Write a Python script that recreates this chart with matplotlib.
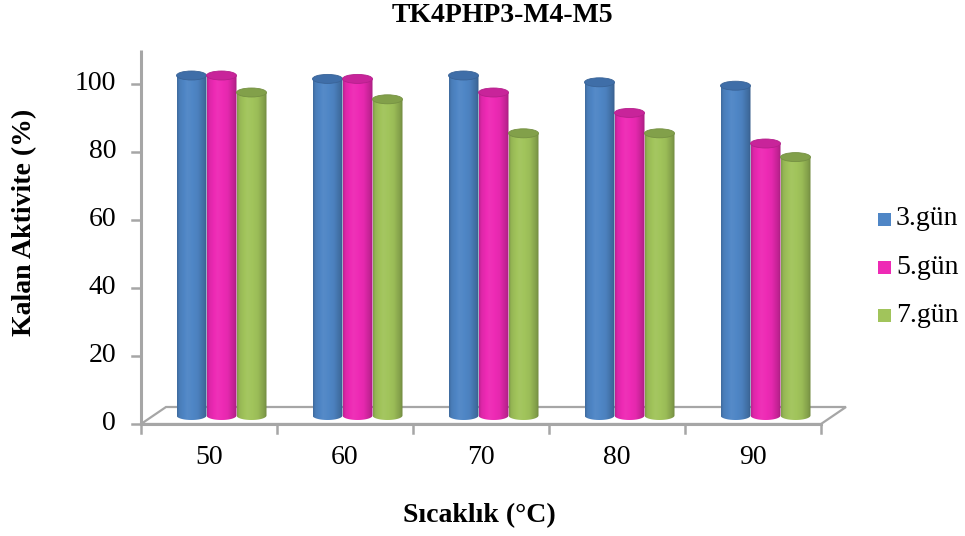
import numpy as np
import matplotlib
matplotlib.use("Agg")
import matplotlib.pyplot as plt
from matplotlib.patches import Ellipse, Polygon, PathPatch
from matplotlib.path import Path
from matplotlib.colors import to_rgb

# ---- data ----
categories = ["50", "60", "70", "80", "90"]
series_names = ["3.gün", "5.gün", "7.gün"]
day3 = [100, 99, 100, 98, 97]
day5 = [100, 99, 95, 89, 80]
day7 = [95, 93, 83, 83, 76]
y_ticks = [0, 20, 40, 60, 80, 100]

series_values = [day3, day5, day7]
body_colors = ["#4f86c6", "#ee2ab5", "#a1c45b"]
cap_colors = ["#3f6ea8", "#c8249a", "#82a04a"]

plt.rcParams["font.family"] = ["Liberation Serif", "DejaVu Serif"]

W, H = 965, 536
fig = plt.figure(figsize=(W / 100, H / 100), dpi=100)

# axes frame in pixel terms: x from 141 to 821, y: value 0 at 424 px, 100 at 84 px
px_per_unit = 3.4
x0_px, x1_px = 141, 821
y0_px = 424
ytop_px = 50
ymax = (y0_px - ytop_px) / px_per_unit
ax = fig.add_axes([x0_px / W, 1 - y0_px / H, (x1_px - x0_px) / W, (y0_px - ytop_px) / H])
ax.set_xlim(-0.5, len(categories) - 0.5)
ax.set_ylim(0, ymax)
ax.axis("off")

cat_px = (x1_px - x0_px) / len(categories)
depth_dx = 25 / cat_px              # full floor depth in x data units
depth_dy = 17 / px_per_unit         # full floor depth in value units
mid_dx, mid_dy = depth_dx / 2, depth_dy / 2
bar_w = 30 / cat_px
cap_h = 9 / px_per_unit             # ellipse height in value units

axis_col = "#a6a6a6"
n = len(categories)

# floor (parallelogram)
floor = Polygon([(-0.5, 0), (n - 0.5, 0), (n - 0.5 + depth_dx, depth_dy), (-0.5 + depth_dx, depth_dy)],
                closed=True, facecolor="white", edgecolor=axis_col, lw=1.6, clip_on=False, zorder=1)
ax.add_patch(floor)
# vertical axis
ax.plot([-0.5, -0.5], [0, ymax], color=axis_col, lw=2.2, clip_on=False, zorder=2, solid_capstyle="butt")
# front baseline
ax.plot([-0.5, n - 0.5], [0, 0], color=axis_col, lw=2.2, clip_on=False, zorder=2)

# y ticks and labels
tick_len_x = 9 / cat_px
for v in y_ticks:
    ax.plot([-0.5 - tick_len_x, -0.5], [v, v], color=axis_col, lw=1.8, clip_on=False, zorder=2)
    ax.text(-0.5 - 25 / cat_px, v, str(v), ha="right", va="center", fontsize=20, clip_on=False)

# x ticks and labels
tick_len_y = 9 / px_per_unit
for k in range(n + 1):
    ax.plot([k - 0.5, k - 0.5], [0, -tick_len_y], color=axis_col, lw=1.8, clip_on=False, zorder=2)
for k, c in enumerate(categories):
    ax.text(k, -33 / px_per_unit, c, ha="center", va="center", fontsize=20, clip_on=False)


def shade(color, f):
    r, g, b = to_rgb(color)
    if f >= 1:
        return tuple(min(1, ch + (1 - ch) * (f - 1)) for ch in (r, g, b))
    return (r * f, g * f, b * f)


def cylinder(xc, top, color, cap):
    base = mid_dy
    topc = base + top
    x_l, x_r = xc - bar_w / 2, xc + bar_w / 2
    # body outline: rectangle + lower half ellipse
    t = np.linspace(0, np.pi, 40)
    lower = np.column_stack([xc + bar_w / 2 * np.cos(t), base - cap_h / 2 * np.sin(t)])
    verts = np.vstack([[x_r, topc], [x_l, topc], [x_l, base], lower[::-1][1:], [x_r, base]])
    path = Path(verts, closed=False)
    clip = PathPatch(path, transform=ax.transData, facecolor="none", edgecolor="none")
    ax.add_patch(clip)
    # horizontal gradient across the cylinder
    u = np.linspace(0, 1, 64)
    prof = np.interp(u, [0, 0.08, 0.35, 0.7, 0.92, 1.0], [0.8, 0.93, 1.04, 0.96, 0.8, 0.7])
    grad = np.array([shade(color, f) for f in prof])[None, :, :]
    im = ax.imshow(grad, extent=[x_l, x_r, base - cap_h / 2, topc], aspect="auto",
                   interpolation="bilinear", zorder=3, clip_on=True)
    im.set_clip_path(clip)
    # top cap
    ax.add_patch(Ellipse((xc, topc), bar_w, cap_h, facecolor=cap, edgecolor=shade(cap, 0.9),
                         lw=0.6, zorder=4, clip_on=False))


for k in range(n):
    for s, vals in enumerate(series_values):
        xc = k + mid_dx + (s - 1) * bar_w
        cylinder(xc, vals[k], body_colors[s], cap_colors[s])

# restore limits after imshow
ax.set_xlim(-0.5, n - 0.5)
ax.set_ylim(0, ymax)

# titles
fig.text(502 / W, 1 - 15 / H, "TK4PHP3-M4-M5", ha="center", va="center", fontsize=20, fontweight="bold")
fig.text(479 / W, 1 - 516 / H, "Sıcaklık (°C)", ha="center", va="center", fontsize=20, fontweight="bold")
fig.text(25 / W, 1 - 222 / H, "Kalan Aktivite (%)", ha="center", va="center", rotation=90,
         fontsize=20, fontweight="bold")

# legend
for s, name in enumerate(series_names):
    yc = 219 + s * 48
    fig.patches.append(plt.Rectangle((878 / W, 1 - (yc + 7) / H), 13 / W, 13 / H,
                                     transform=fig.transFigure, facecolor=body_colors[s], edgecolor="none"))
    fig.text(896 / W, 1 - yc / H, name, ha="left", va="center", fontsize=20)

fig.savefig("out.png", dpi=100)
